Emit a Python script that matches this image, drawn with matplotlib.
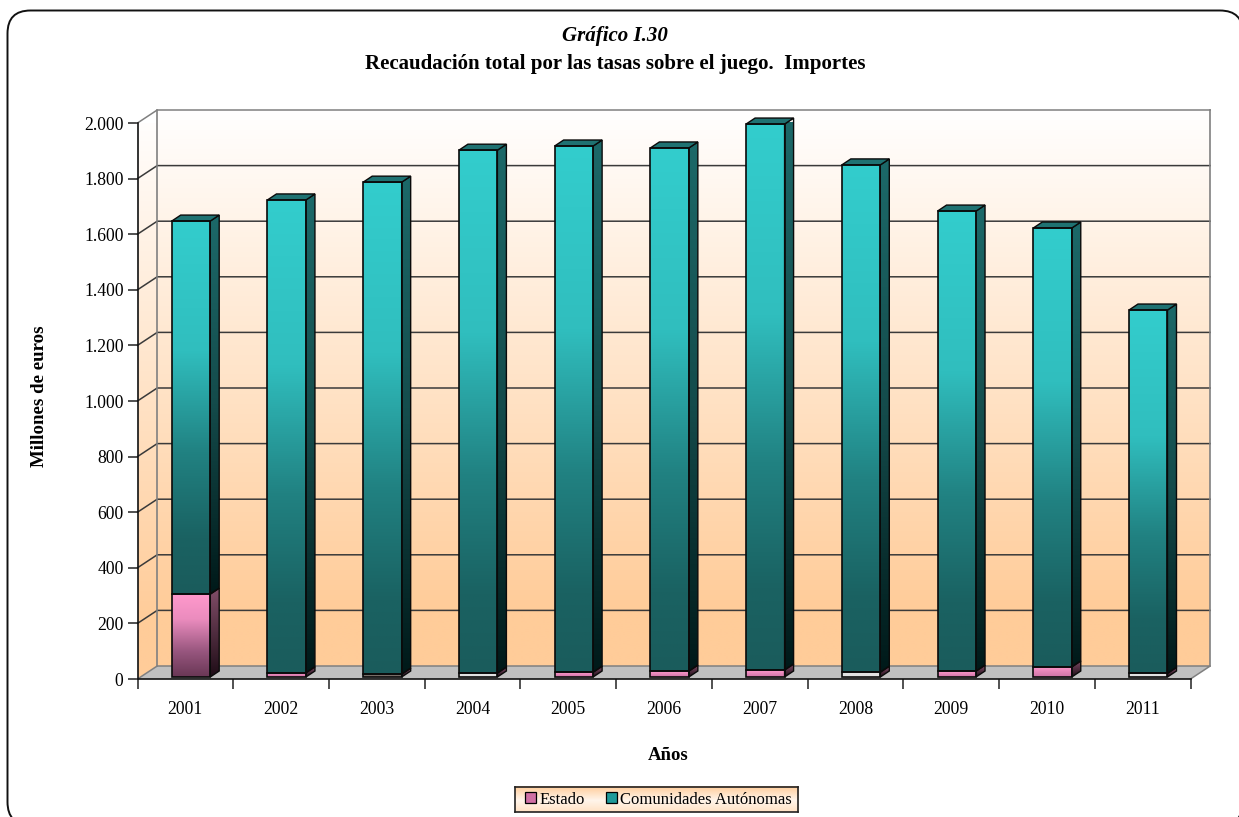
"""Recaudación total por las tasas sobre el juego: pseudo-3D stacked bars."""
import numpy as np
import matplotlib

matplotlib.use('Agg')
import matplotlib.pyplot as plt
from matplotlib.lines import Line2D
from matplotlib.patches import FancyBboxPatch, Patch, Polygon, Rectangle
from matplotlib.transforms import IdentityTransform

years = ['2001', '2002', '2003', '2004', '2005', '2006', '2007', '2008', '2009', '2010', '2011']
estado = [298, 15, 10, 14, 17, 21, 25, 17, 21, 36, 13]
comunidades = [1342, 1701, 1770, 1881, 1893, 1882, 1964, 1825, 1655, 1579, 1307]
yticks = [0, 200, 400, 600, 800, 1000, 1200, 1400, 1600, 1800, 2000]
ytick_labels = ['0', '200', '400', '600', '800', '1.000', '1.200', '1.400', '1.600', '1.800', '2.000']

W, H = 1239, 817
AX_L, AX_R, AX_TOP, AX_BOT = 137.5, 1190.5, 123.0, 679.0
SX = 11 / (AX_R - AX_L)
SY = 2000 / (AX_BOT - AX_TOP)

# gradients: (position from the top, rgb)
TEAL_FRONT = [(0, (51, 205, 205)), (0.35, (48, 190, 190)), (0.62, (33, 130, 130)),
              (0.85, (26, 98, 98)), (1, (26, 92, 92))]
TEAL_SIDE = [(0, (28, 105, 105)), (0.5, (20, 75, 75)), (1, (0, 25, 25))]
PINK_FRONT = [(0, (255, 153, 204)), (0.3, (235, 140, 190)), (0.7, (150, 85, 125)), (1, (105, 55, 85))]
PINK_SIDE = [(0, (130, 78, 105)), (1, (30, 12, 22))]
WALL = [(0, (255, 255, 255)), (0.9, (255, 204, 153)), (1, (255, 204, 153))]
# the thinnest Estado slices render almost without colour in the original
thin_colors = {'2003': (120, 110, 105), '2004': (225, 225, 225), '2008': (225, 225, 225), '2011': (225, 225, 225)}


def ramp(stops, n=256):
    pos = [s[0] for s in stops]
    rgb = np.array([s[1] for s in stops], dtype=float)
    t = np.linspace(0, 1, n)
    col = np.stack([np.interp(t, pos, rgb[:, i]) for i in range(3)], axis=1) / 255
    return np.repeat(col[:, None, :], 2, axis=1)


def gradient(ax, extent, stops, zorder, clip=None):
    im = ax.imshow(ramp(stops), extent=extent, aspect='auto', origin='upper',
                   interpolation='bilinear', zorder=zorder)
    im.set_clip_box(None)
    if clip is not None:
        im.set_clip_path(Polygon(clip, closed=True, transform=ax.transData))
    else:
        im.set_clip_on(False)
    return im


def box(ax, x0, x1, y0, y1, front, side, top=None):
    """One bar segment: front face, right side and optional top face."""
    dx, dy = 9 * SX, 6 * SY
    gradient(ax, (x0, x1, y0, y1), front, 4)
    side_poly = [(x1, y0), (x1 + dx, y0 + dy), (x1 + dx, y1 + dy), (x1, y1)]
    gradient(ax, (x1, x1 + dx, y0, y1 + dy), side, 4, clip=side_poly)
    ax.add_patch(Polygon(side_poly, closed=True, fill=False, ec='#0a0a0a', lw=1.0, zorder=5, clip_on=False))
    if top is not None:
        ax.add_patch(Polygon([(x0, y1), (x0 + dx, y1 + dy), (x1 + dx, y1 + dy), (x1, y1)], closed=True,
                             fc=top, ec='#0a0a0a', lw=1.0, zorder=5, clip_on=False))
    ax.add_patch(Rectangle((x0, y0), x1 - x0, y1 - y0, fill=False, ec='#0a0a0a', lw=1.2,
                           zorder=5.5, clip_on=False))


plt.rcParams['font.family'] = ['Liberation Serif', 'DejaVu Serif']
fig = plt.figure(figsize=(W / 100, H / 100), dpi=100, facecolor='white')

# rounded outer frame, runs off the right and bottom of the picture
fig.add_artist(FancyBboxPatch((7.5, -8), 1235.5, H - 10.5 + 8, boxstyle='round,pad=0,rounding_size=23',
                              fc='white', ec='#111111', lw=1.4, transform=IdentityTransform(), zorder=-5))

ax = fig.add_axes([AX_L / W, 1 - AX_BOT / H, (AX_R - AX_L) / W, (AX_BOT - AX_TOP) / H])
ax.patch.set_visible(False)

wall_dx, wall_dy = 19.7 * SX, 13 * SY
grey = '#808080'

# back wall, left wall, floor
gradient(ax, (wall_dx, 11 + wall_dx, wall_dy, 2000 + wall_dy), WALL, 0)
left_wall = [(0, 0), (wall_dx, wall_dy), (wall_dx, 2000 + wall_dy), (0, 2000)]
gradient(ax, (0, wall_dx, 0, 2000 + wall_dy), WALL, 0, clip=left_wall)
ax.add_patch(Polygon([(0, 0), (11, 0), (11 + wall_dx, wall_dy), (wall_dx, wall_dy)], closed=True,
                     fc='#c0c0c0', ec='none', zorder=1, clip_on=False))

# gridlines across both walls
for v in yticks[1:]:
    col = grey if v == 2000 else '#3a3a3a'
    ax.add_line(Line2D([0, wall_dx, 11 + wall_dx], [v, v + wall_dy, v + wall_dy], color=col, lw=1.1,
                       zorder=2, clip_on=False))
ax.add_line(Line2D([wall_dx, wall_dx], [wall_dy, 2000 + wall_dy], color=grey, lw=1.2, zorder=2, clip_on=False))
ax.add_line(Line2D([11 + wall_dx] * 2, [wall_dy, 2000 + wall_dy], color=grey, lw=1.2, zorder=2, clip_on=False))
ax.add_line(Line2D([0, wall_dx, 11 + wall_dx, 11], [0, wall_dy, wall_dy, 0], color=grey, lw=1.1, zorder=2,
                   clip_on=False))

# bars
width = 38.5 * SX
base = 2 * SY
shift = 5.6 * SX
for i, year in enumerate(years):
    x0 = i + 0.5 + shift - width / 2
    x1 = x0 + width
    split = base + estado[i]
    total = split + comunidades[i]
    if year in thin_colors:
        c = thin_colors[year]
        est_front = [(0, c), (1, c)]
    elif estado[i] < 100:
        est_front = [(0, (255, 153, 204)), (1, (205, 115, 165))]
    else:
        est_front = PINK_FRONT
    box(ax, x0, x1, base, split, est_front, PINK_SIDE)
    box(ax, x0, x1, split, total, TEAL_FRONT, TEAL_SIDE, top='#1f7272')

ax.set_xlim(0, 11)
ax.set_ylim(0, 2000)
for s in ('top', 'right'):
    ax.spines[s].set_visible(False)
for s in ('left', 'bottom'):
    ax.spines[s].set_linewidth(1.2)
    ax.spines[s].set_color('#111111')
    ax.spines[s].set_zorder(6)
ax.set_yticks(yticks, ytick_labels)
ax.set_xticks(np.arange(12))
ax.set_xticklabels([])
ax.set_xticks(np.arange(11) + 0.5, years, minor=True)
ax.tick_params(axis='y', length=7, width=1.2, color='#333333', labelsize=12.7, pad=3)
ax.tick_params(axis='x', which='major', length=7.5, width=1.2, color='#333333')
ax.tick_params(axis='x', which='minor', length=0, labelsize=12.7, pad=16)

fig.text(615 / W, 1 - 36 / H, 'Gráfico I.30', ha='center', va='center', fontsize=15,
         fontweight='bold', fontstyle='italic')
fig.text(615.5 / W, 1 - 64 / H, 'Recaudación total por las tasas sobre el juego.  Importes', ha='center',
         va='center', fontsize=15, fontweight='bold')
fig.text(668 / W, 1 - 756 / H, 'Años', ha='center', va='center', fontsize=13.5, fontweight='bold')
fig.text(40 / W, 1 - 396 / H, 'Millones de euros', ha='center', va='center', rotation=90, fontsize=13.6,
         fontweight='bold')

# legend box with its own soft gradient
lax = fig.add_axes([515 / W, 1 - 812 / H, 283 / W, 25 / H])
gradient(lax, (0, 1, 0, 1), [(0, (255, 204, 153)), (0.55, (255, 245, 235)), (1, (255, 225, 195))], 0)
lax.set_xlim(0, 1)
lax.set_ylim(0, 1)
lax.set_xticks([])
lax.set_yticks([])
for s in lax.spines.values():
    s.set_linewidth(1.2)
    s.set_color('#222222')
handles = [Patch(fc='#d070a5', ec='black', lw=0.9), Patch(fc='#1f9a9a', ec='black', lw=0.9)]
lax.legend(handles, ['Estado', 'Comunidades Autónomas'], ncol=2, loc='center', bbox_to_anchor=(0.507, 0.5),
           frameon=False, fontsize=12, handlelength=0.66, handleheight=0.66, handletextpad=0.2,
           columnspacing=1.3, borderpad=0, borderaxespad=0)

fig.savefig('out.png', dpi=100)
plt.close(fig)
